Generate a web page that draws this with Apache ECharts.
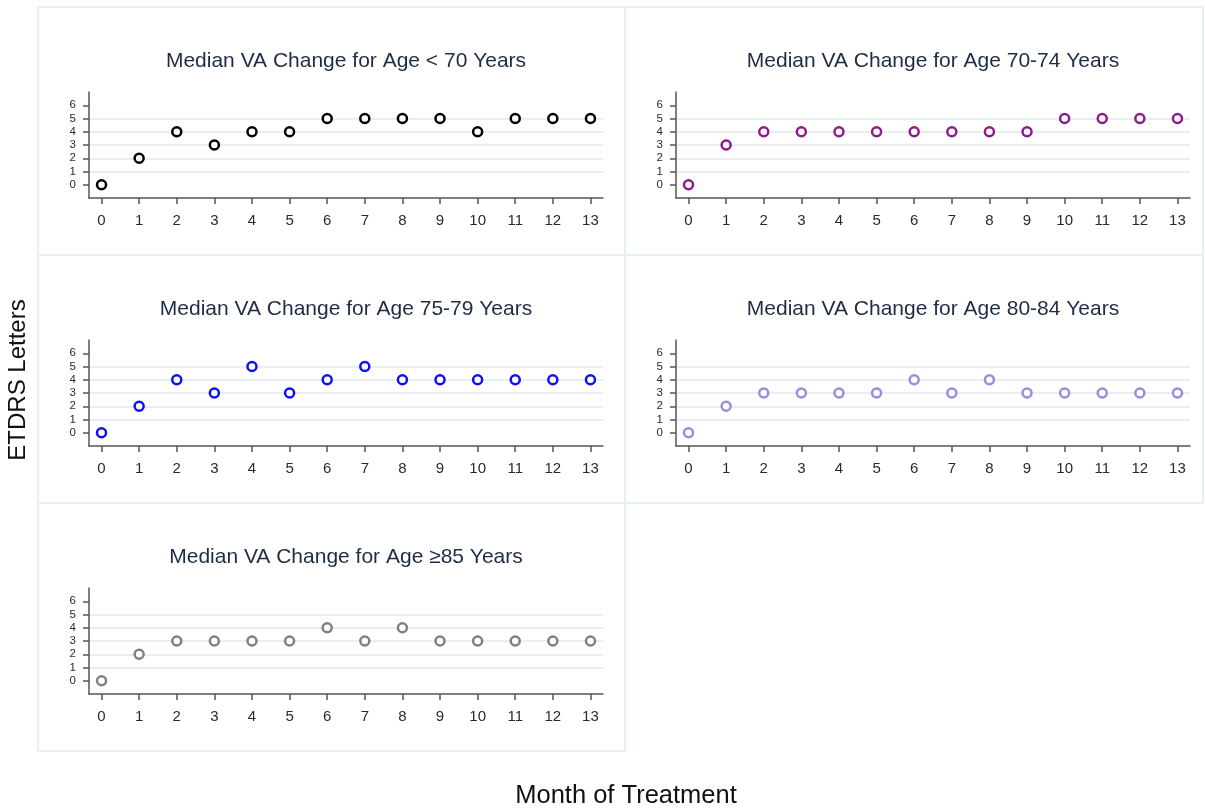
<!DOCTYPE html>
<html>
<head>
<meta charset="utf-8">
<script src="https://cdn.jsdelivr.net/npm/echarts@6/dist/echarts.min.js"></script>
<style>
html,body{margin:0;padding:0;background:#fff;}
#chart{width:1205px;height:810px;}
</style>
</head>
<body>
<div id="chart"></div>
<script>
// ---- data ----
const months = [0,1,2,3,4,5,6,7,8,9,10,11,12,13];
const yTicks = [0,1,2,3,4,5,6];
const titles = [
  "Median VA Change for Age < 70 Years",
  "Median VA Change for Age 70-74 Years",
  "Median VA Change for Age 75-79 Years",
  "Median VA Change for Age 80-84 Years",
  "Median VA Change for Age \u226585 Years"
];
const ageLt70   = [0,2,4,3,4,4,5,5,5,5,4,5,5,5];
const age70to74 = [0,3,4,4,4,4,4,4,4,4,5,5,5,5];
const age75to79 = [0,2,4,3,5,3,4,5,4,4,4,4,4,4];
const age80to84 = [0,2,3,3,3,3,4,3,4,3,3,3,3,3];
const age85plus = [0,2,3,3,3,3,4,3,4,3,3,3,3,3];
const seriesData = [ageLt70, age70to74, age75to79, age80to84, age85plus];
const colors = ["#000000","#8e1a8c","#1010f5","#9a8cdc","#808080"];
const yAxisTitle = "ETDRS Letters";
const xAxisTitle = "Month of Treatment";

// ---- layout ----
const FONT = "Liberation Sans, Arial, sans-serif";
const panels = [
  {x:38, y:7, w:587, h:248, gl:89, gt:92},
  {x:625, y:7, w:578, h:248, gl:676, gt:92},
  {x:38, y:255, w:587, h:248, gl:89, gt:340},
  {x:625, y:255, w:578, h:248, gl:676, gt:340},
  {x:38, y:503, w:587, h:248, gl:89, gt:588}
];
const GW = 514, GH = 106;

const grids = [], xAxes = [], yAxes = [], series = [], graphics = [];
panels.forEach((p, i) => {
  graphics.push({
    type:'rect', silent:true, z:-1,
    shape:{x:p.x, y:p.y, width:p.w, height:p.h},
    style:{fill:null, stroke:'#e8eff1', lineWidth:2}
  });
  graphics.push({
    type:'text', silent:true,
    x: p.gl + GW/2, y: p.gt - 31,
    style:{text:titles[i], font:'21px ' + FONT, fill:'#1f2c46', align:'center', verticalAlign:'middle'}
  });
  grids.push({left:p.gl, top:p.gt, width:GW, height:GH, containLabel:false});
  xAxes.push({
    type:'value', gridIndex:i, min:-1/3, max:13+1/3,
    axisLine:{show:true, onZero:false, lineStyle:{color:'#555', width:1.5}},
    axisTick:{show:true, length:6, customValues:months, lineStyle:{color:'#555', width:1.5}},
    axisLabel:{customValues:months, margin:15, fontSize:15, color:'#2a2a2a', fontFamily:FONT},
    splitLine:{show:false}
  });
  yAxes.push({
    type:'value', gridIndex:i, min:-1, max:7, interval:1,
    axisLine:{show:true, onZero:false, lineStyle:{color:'#555', width:1.5}},
    axisTick:{show:true, length:6, customValues:yTicks, lineStyle:{color:'#555', width:1.5}},
    axisLabel:{customValues:yTicks, margin:13, fontSize:11.5, color:'#2a2a2a', fontFamily:FONT},
    splitLine:{show:true, showMinLine:false, showMaxLine:false, lineStyle:{color:'#e7eff2', width:2}}
  });
  series.push({
    type:'scatter', xAxisIndex:i, yAxisIndex:i,
    symbol:'circle', symbolSize:9,
    itemStyle:{color:'#ffffff', borderColor:colors[i], borderWidth:2.5, opacity:1},
    data: months.map((m, k) => [m, seriesData[i][k]]),
    silent:true, animation:false
  });
});

graphics.push({
  type:'text', silent:true, x:18, y:380, rotation:Math.PI/2,
  style:{text:yAxisTitle, font:'24px ' + FONT, fill:'#111', align:'center', verticalAlign:'middle'}
});
graphics.push({
  type:'text', silent:true, x:626, y:796,
  style:{text:xAxisTitle, font:'25.5px ' + FONT, fill:'#111', align:'center', verticalAlign:'middle'}
});

const chart = echarts.init(document.getElementById('chart'), null, {renderer:'canvas'});
chart.setOption({
  animation:false,
  backgroundColor:'#fff',
  grid:grids, xAxis:xAxes, yAxis:yAxes, series:series,
  graphic:graphics
});
</script>
</body>
</html>
